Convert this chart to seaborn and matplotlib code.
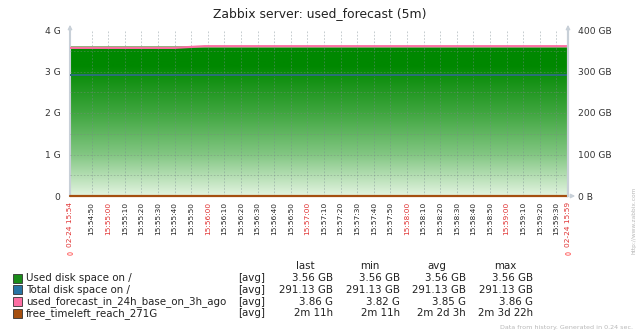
import numpy as np
import pandas as pd
import matplotlib
matplotlib.use("Agg")
import matplotlib.pyplot as plt
from matplotlib.colors import LinearSegmentedColormap
from matplotlib.patches import Rectangle, Ellipse
import seaborn as sns

sns.set_theme(style="white")
plt.rcParams['font.family'] = ['DejaVu Sans']

# ---- data (seconds after 15:54:37) ----
t_used = [0, 300]
used_g = [3.60, 3.60]
t_forecast = [0, 63, 81, 300]
forecast_g = [3.57, 3.57, 3.61, 3.61]
t_total = [0, 300]
total_gb = [291.13, 291.13]
t_free = [0, 300]
free_g = [0.0, 0.0]

tick_labels = ["15:54:50", "15:55:00", "15:55:10", "15:55:20", "15:55:30", "15:55:40",
               "15:55:50", "15:56:00", "15:56:10", "15:56:20", "15:56:30", "15:56:40",
               "15:56:50", "15:57:00", "15:57:10", "15:57:20", "15:57:30", "15:57:40",
               "15:57:50", "15:58:00", "15:58:10", "15:58:20", "15:58:30", "15:58:40",
               "15:58:50", "15:59:00", "15:59:10", "15:59:20", "15:59:30"]
edge_labels = ["02-24 15:54", "02-24 15:59"]
left_ticks = ["0", "1 G", "2 G", "3 G", "4 G"]
right_ticks = ["0 B", "100 GB", "200 GB", "300 GB", "400 GB"]

legend_names = ["Used disk space on /", "Total disk space on /",
                "used_forecast_in_24h_base_on_3h_ago", "free_timeleft_reach_271G"]
legend_colors = ["#1A8C1A", "#2774A4", "#FC6EA3", "#A54F10"]
col_last = ["3.56 GB", "291.13 GB", "3.86 G", "2m 11h"]
col_min = ["3.56 GB", "291.13 GB", "3.82 G", "2m 11h"]
col_avg = ["3.56 GB", "291.13 GB", "3.85 G", "2m 2d 3h"]
col_max = ["3.56 GB", "291.13 GB", "3.86 G", "2m 3d 22h"]

START = 37  # seconds after 15:54:00 at left edge
def tsec(lbl):
    h, m, s = [int(x) for x in lbl.split(":")]
    return (m - 54) * 60 + s - START

W, H = 640, 335
fig = plt.figure(figsize=(W / 100, H / 100), dpi=100)
fig.patch.set_facecolor("white")
x0, x1, yt, yb = 70, 568, 30, 196
ax = fig.add_axes([x0 / W, 1 - yb / H, (x1 - x0) / W, (yb - yt) / H])
ax.set_xlim(0, 300)
ax.set_ylim(0, 4)
ax.set_facecolor("white")

# gradient fill for used disk space
cmap = LinearSegmentedColormap.from_list("g", [
    (0.0, "#e3f4e0"), (0.25, "#82c682"), (0.5, "#3fa63f"),
    (0.72, "#0e8e0e"), (0.78, "#008800"), (1.0, "#008800")])
grad = np.linspace(0, 1, 256).reshape(-1, 1)
im = ax.imshow(grad, extent=[0, 300, 0, 4], origin="lower", aspect="auto",
               cmap=cmap, zorder=1)
poly = ax.fill_between(t_used, 0, used_g, color="none", lw=0)
im.set_clip_path(poly.get_paths()[0], transform=ax.transData)
ax.plot(t_used, used_g, color="#5cbf5c", lw=1.2, zorder=2)

# grid
for v in np.arange(0.5, 4.0, 0.5):
    ax.axhline(v, color="#7a8a80", lw=0.6, ls=(0, (2, 2)), alpha=0.5, zorder=3)
for lbl in tick_labels:
    ax.axvline(tsec(lbl), color="#7a8a90", lw=0.6, ls=(0, (2, 2)), alpha=0.5, zorder=3)

df_total = pd.DataFrame({"t": t_total, "v": np.array(total_gb) / 100.0})
sns.lineplot(data=df_total, x="t", y="v", color="#2a7078", lw=1.4, ax=ax, zorder=4)
df_fc = pd.DataFrame({"t": t_forecast, "v": forecast_g})
sns.lineplot(data=df_fc, x="t", y="v", color="#FC6EA3", lw=1.6, ax=ax, zorder=5)
df_free = pd.DataFrame({"t": t_free, "v": free_g})
sns.lineplot(data=df_free, x="t", y="v", color="#A54F10", lw=1.6, ax=ax, zorder=6,
             clip_on=False)

ax.set_xlabel("")
ax.set_ylabel("")
for s in ["top", "bottom"]:
    ax.spines[s].set_visible(False)
for s in ["left", "right"]:
    ax.spines[s].set_color("#c8d0d8")
    ax.spines[s].set_linewidth(1.5)

ax.set_yticks([0, 1, 2, 3, 4])
ax.set_yticklabels(left_ticks, fontsize=6.6, color="#333333")
ax.tick_params(axis="y", length=0, pad=7)

ax2 = ax.twinx()
ax2.set_ylim(0, 400)
ax2.set_yticks([0, 100, 200, 300, 400])
ax2.set_yticklabels(right_ticks, fontsize=6.6, color="#333333")
ax2.tick_params(axis="y", length=0, pad=7)
for s in ["top", "bottom", "left"]:
    ax2.spines[s].set_visible(False)
ax2.spines["right"].set_color("#c8d0d8")
ax2.spines["right"].set_linewidth(1.5)

# x tick labels
xt = [0] + [tsec(l) for l in tick_labels] + [300]
xl = [edge_labels[0]] + tick_labels + [edge_labels[1]]
ax.set_xticks(xt)
ax.set_xticklabels(xl, rotation=90, fontsize=5.3)
ax.tick_params(axis="x", length=0, pad=4)
for lbl, tl in zip(xl, ax.get_xticklabels()):
    if lbl.endswith(":00") or lbl.startswith("02-24"):
        tl.set_color("#e03030")
    else:
        tl.set_color("#222222")

# axis arrows
arrow = dict(arrowstyle="-|>", color="#c8d0d8", lw=1, mutation_scale=6)
fig.patches.append(matplotlib.patches.FancyArrowPatch(
    (x0 / W, 1 - 33 / H), (x0 / W, 1 - 22 / H), transform=fig.transFigure, **arrow))
fig.patches.append(matplotlib.patches.FancyArrowPatch(
    (x1 / W, 1 - 33 / H), (x1 / W, 1 - 22 / H), transform=fig.transFigure, **arrow))
fig.patches.append(matplotlib.patches.FancyArrowPatch(
    (x1 / W, 1 - 196 / H), (x1 / W + 10 / W, 1 - 196 / H), transform=fig.transFigure, **arrow))

# title
fig.text(320 / W, 1 - 14 / H, "Zabbix server: used_forecast (5m)", ha="center",
         va="center", fontsize=8.9, color="#222222")

# small red markers
for xx in (x0, x1):
    fig.patches.append(Ellipse((xx / W, 1 - 254 / H), 5 / W, 2.5 / H, transform=fig.transFigure,
                               fill=False, ec="#ff7070", lw=0.7))

# legend table
fs = 7.4
fig.text(305 / W, 1 - 266 / H, "last", ha="center", va="center", fontsize=fs, color="#222")
fig.text(370 / W, 1 - 266 / H, "min", ha="center", va="center", fontsize=fs, color="#222")
fig.text(437 / W, 1 - 266 / H, "avg", ha="center", va="center", fontsize=fs, color="#222")
fig.text(505 / W, 1 - 266 / H, "max", ha="center", va="center", fontsize=fs, color="#222")
for i, name in enumerate(legend_names):
    yy = 1 - (278 + 11.8 * i) / H
    fig.patches.append(Rectangle((12.5 / W, yy - 4.5 / H), 9 / W, 9 / H,
                                 transform=fig.transFigure, fc=legend_colors[i],
                                 ec="#333333", lw=0.6))
    fig.text(26 / W, yy, name, ha="left", va="center", fontsize=fs, color="#222")
    fig.text(238 / W, yy, "[avg]", ha="left", va="center", fontsize=fs, color="#222")
    fig.text(333 / W, yy, col_last[i], ha="right", va="center", fontsize=fs, color="#222")
    fig.text(400 / W, yy, col_min[i], ha="right", va="center", fontsize=fs, color="#222")
    fig.text(466 / W, yy, col_avg[i], ha="right", va="center", fontsize=fs, color="#222")
    fig.text(533 / W, yy, col_max[i], ha="right", va="center", fontsize=fs, color="#222")

fig.text(633 / W, 1 - 328 / H, "Data from history. Generated in 0.24 sec.", ha="right",
         va="center", fontsize=4.6, color="#b8b8b8")
fig.text(634 / W, 1 - 220 / H, "http://www.zabbix.com", ha="center", va="center",
         rotation=90, fontsize=4.2, color="#b8b8b8")

fig.savefig("out.png", dpi=100)
